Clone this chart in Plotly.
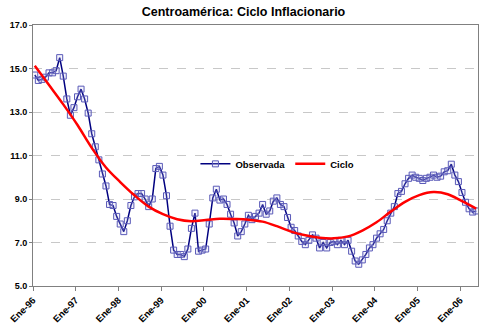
import plotly.graph_objects as go

# Monthly observed inflation, Jan-1996 .. May-2006
observada = [14.7, 14.45, 14.5, 14.6, 14.8, 14.8, 14.9, 15.5, 14.65, 13.6, 12.85, 13.2,
             13.7, 14.05, 13.6, 12.95, 12.0, 11.4, 10.8, 10.15, 9.6, 8.75, 8.7, 8.2,
             7.85, 7.5, 8.0, 8.7, 9.1, 9.25, 9.25, 9.0, 8.65, 9.0, 10.4, 10.5,
             10.1, 9.15, 7.75, 6.65, 6.45, 6.45, 6.35, 6.7, 7.65, 8.35, 6.6, 6.65,
             6.7, 7.85, 9.05, 9.45, 8.95, 9.0, 8.75, 8.3, 7.9, 7.3, 7.5, 7.85,
             8.25, 8.05, 8.2, 8.35, 8.75, 8.3, 8.45, 8.9, 9.05, 8.75, 8.65, 8.15,
             7.7, 7.55, 7.3, 7.05, 6.9, 7.1, 7.35, 7.2, 6.75, 7.0, 6.75, 7.0,
             7.05, 6.9, 7.1, 6.9, 7.1, 6.6, 6.15, 6.0, 6.2, 6.45, 6.75, 6.9,
             7.2, 7.4, 7.6, 8.0, 8.35, 8.65, 9.25, 9.35, 9.7, 9.95, 10.1, 10.0,
             9.95, 9.85, 9.95, 10.0, 10.1, 10.0, 10.05, 10.25, 10.3, 10.6, 10.1, 9.8,
             9.3, 8.85, 8.55, 8.4, 8.45]

# Cycle (trend) read every 4 months
ciclo_mes = [0, 4, 8, 12, 16, 20, 24, 28, 32, 36, 40, 44, 48, 52, 56, 60,
             64, 68, 72, 76, 80, 84, 88, 92, 96, 100, 104, 108, 112, 116, 120, 124]
ciclo = [15.13, 14.24, 13.35, 12.4, 11.35, 10.45, 9.78, 9.17, 8.65, 8.3, 8.07, 7.98,
         8.03, 8.09, 8.08, 8.05, 7.96, 7.75, 7.5, 7.33, 7.22, 7.19, 7.28, 7.55,
         7.93, 8.42, 8.87, 9.18, 9.32, 9.22, 8.9, 8.56]

tick_labels = ["Ene-96", "Ene-97", "Ene-98", "Ene-99", "Ene-00", "Ene-01",
               "Ene-02", "Ene-03", "Ene-04", "Ene-05", "Ene-06"]
y_ticks = [5, 7, 9, 11, 13, 15, 17]

meses = list(range(len(observada)))
tick_pos = [12 * k - 0.5 for k in range(len(tick_labels))]

FONT = "Liberation Sans, Arial, sans-serif"

fig = go.Figure()
fig.add_trace(go.Scatter(
    x=meses, y=observada, name="<b>Observada</b>", mode="lines+markers",
    line=dict(color="#000080", width=1.5),
    marker=dict(symbol="square", size=6, color="rgba(200,200,240,0.2)",
                line=dict(color="#5a5ab8", width=1)),
))
fig.add_trace(go.Scatter(
    x=ciclo_mes, y=ciclo, name="<b>Ciclo</b>", mode="lines",
    line=dict(color="#ff0000", width=2.5, shape="spline", smoothing=1.0),
))

fig.update_layout(
    width=487, height=332,
    margin=dict(l=31, r=8, t=25, b=44),
    paper_bgcolor="white", plot_bgcolor="white",
    font=dict(family=FONT, size=9, color="black"),
    title=dict(text="<b>Centroamérica: Ciclo Inflacionario</b>",
               x=0.5, xanchor="center", y=1 - 12 / 332, yanchor="middle",
               font=dict(family=FONT, size=12.5, color="black")),
    showlegend=True,
    legend=dict(orientation="h", x=0.365, xanchor="left", y=0.468, yanchor="middle",
                bgcolor="rgba(0,0,0,0)", font=dict(family=FONT, size=9.5, color="black"),
                itemwidth=30, traceorder="normal"),
)

fig.update_xaxes(
    range=[-0.5, 124.5], tickmode="array", tickvals=tick_pos,
    ticktext=["<b>%s</b>" % t for t in tick_labels], tickangle=-45,
    showgrid=False, zeroline=False,
    showline=True, linecolor="#808080", linewidth=1, mirror=True,
    ticks="outside", ticklen=4, tickcolor="#808080",
    tickfont=dict(family=FONT, size=9.5, color="black"),
)
fig.update_yaxes(
    range=[5, 17], tickmode="array", tickvals=y_ticks,
    ticktext=["<b>%.1f</b>" % v for v in y_ticks],
    showgrid=True, gridcolor="#c8c8c8", griddash="dash", gridwidth=1,
    zeroline=False,
    showline=True, linecolor="#808080", linewidth=1, mirror=True,
    ticks="outside", ticklen=3, tickcolor="#808080",
    tickfont=dict(family=FONT, size=9, color="black"),
)

fig.write_html("out.html")
